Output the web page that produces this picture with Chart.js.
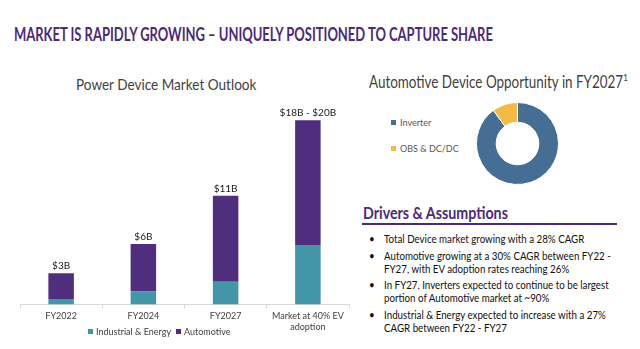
<!DOCTYPE html>
<html>
<head>
<meta charset="utf-8">
<script src="https://cdn.jsdelivr.net/npm/chart.js@4/dist/chart.umd.min.js"></script>
<style>
  html, body { margin: 0; padding: 0; background: #fff; }
  body { width: 640px; height: 349px; position: relative; overflow: hidden; font-family: Lato, "Open Sans", sans-serif; }
  .abs { position: absolute; white-space: nowrap; transform-origin: 0 50%; }
  #mainTitle { left: 14px; top: 23px; font-size: 18px; font-weight: 700; color: #4b2a7c; line-height: 22px; }
  #barTitle { left: 76px; top: 74px; font-size: 15px; color: #3f3f3f; line-height: 20px; }
  #donutTitle { left: 369px; top: 71px; font-size: 17px; color: #3f3f3f; line-height: 22px; }
  #donutTitle sup { font-size: 10px; vertical-align: 7px; line-height: 0; }
  #barWrap { position: absolute; left: 0; top: 100px; width: 352px; height: 249px; }
  #donut { position: absolute; left: 476px; top: 102px; }
  .lg { position: absolute; font-size: 9px; color: #595959; line-height: 12px; white-space: nowrap; }
  .lg span { display: inline-block; width: 5px; height: 5px; margin-right: 4px; vertical-align: 1px; }
  #barLegend { position: absolute; left: 88px; top: 326px; font-size: 9px; color: #404040; line-height: 12px; white-space: nowrap; }
  #barLegend .it { display: inline-block; margin-right: 5px; }
  #barLegend span { display: inline-block; width: 5px; height: 5px; margin-right: 3px; vertical-align: 1px; }
  #drvHead { left: 363px; top: 202px; font-size: 17px; font-weight: 700; color: #4b2a7c; line-height: 22px; }
  #drvLine { position: absolute; left: 362px; top: 223px; width: 255px; height: 2px; background: #4b2a7c; }
  #bullets { position: absolute; left: 369px; top: 232px; margin: 0; padding: 0; list-style: none; font-size: 11px; line-height: 13px; color: #111; transform-origin: 0 0; transform: scaleX(0.885); }
  #bullets li { position: relative; padding-left: 17px; margin-bottom: 3.5px; white-space: nowrap; }
  #bullets li:before { content: "\2022"; position: absolute; left: 0; top: 0; }
</style>
</head>
<body>
<div id="mainTitle" class="abs">MARKET IS RAPIDLY GROWING – UNIQUELY POSITIONED TO CAPTURE SHARE</div>
<div id="barTitle" class="abs">Power Device Market Outlook</div>
<div id="donutTitle" class="abs">Automotive Device Opportunity in FY2027<sup>1</sup></div>
<div id="barWrap"><canvas id="bars"></canvas></div>
<div id="barLegend"></div>
<canvas id="donut" width="83" height="83"></canvas>
<div id="donutLegend"></div>
<div id="drvHead" class="abs">Drivers &amp; Assumptions</div>
<div id="drvLine"></div>
<ul id="bullets">
  <li>Total Device market growing with a 28% CAGR</li>
  <li>Automotive growing at a 30% CAGR between FY22 -<br>FY27, with EV adoption rates reaching 26%</li>
  <li>In FY27, Inverters expected to continue to be largest<br>portion of Automotive market at ~90%</li>
  <li>Industrial &amp; Energy expected to increase with a 27%<br>CAGR between FY22 - FY27</li>
</ul>
<script>
// bar chart data ($B)
var categories = ['FY2022', 'FY2024', 'FY2027', ['Market at 40% EV', 'adoption']];
var seriesNames = ['Industrial & Energy', 'Automotive'];
var industrial = [0.55, 1.3, 2.25, 5.9];
var automotive = [2.55, 4.7, 8.55, 12.4];
var totalLabels = ['$3B', '$6B', '$11B', '$18B - $20B'];

// doughnut data (%)
var donutLabels = ['Inverter', 'OBS & DC/DC'];
var donutValues = [90, 10];

var purple = '#4f2e7e';
var teal = '#4396a8';
var donutColors = ['#466d94', '#f3bb45'];

// stretch headings to the reference widths
function fitWidth(id, w) {
  var el = document.getElementById(id);
  el.style.transform = 'scaleX(' + (w / el.scrollWidth) + ')';
}
fitWidth('mainTitle', 479);
fitWidth('barTitle', 180);
fitWidth('donutTitle', 259);
fitWidth('drvHead', 145);

var totalsPlugin = {
  id: 'totals',
  afterDatasetsDraw: function (chart) {
    var ctx = chart.ctx;
    var top = chart.getDatasetMeta(chart.data.datasets.length - 1);
    ctx.save();
    ctx.font = '10px Lato, sans-serif';
    ctx.fillStyle = '#1a1a1a';
    ctx.textAlign = 'center';
    ctx.textBaseline = 'bottom';
    top.data.forEach(function (bar, i) {
      ctx.fillText(totalLabels[i], bar.x, bar.y - 2);
    });
    ctx.restore();
  }
};

var barChart = new Chart(document.getElementById('bars'), {
  type: 'bar',
  data: {
    labels: categories,
    datasets: [
      { label: seriesNames[0], data: industrial, backgroundColor: teal, barPercentage: 0.62, categoryPercentage: 0.5 },
      { label: seriesNames[1], data: automotive, backgroundColor: purple, barPercentage: 0.62, categoryPercentage: 0.5 }
    ]
  },
  options: {
    responsive: true,
    maintainAspectRatio: false,
    animation: false,
    layout: { padding: { left: 20, right: 3, top: 3, bottom: 14 } },
    plugins: {
      legend: { display: false },
      tooltip: { enabled: false }
    },
    scales: {
      x: {
        stacked: true,
        grid: { drawOnChartArea: false, color: '#d9d9d9', tickLength: 4 },
        border: { color: '#d9d9d9' },
        ticks: { color: '#404040', font: { family: 'Lato', size: 9, lineHeight: 1.25 }, padding: 2, maxRotation: 0, autoSkip: false }
      },
      y: { stacked: true, display: false, min: 0, max: 20 }
    }
  },
  plugins: [totalsPlugin]
});

// html legends, built from the same arrays
function addLegend(boxId, names, colors, lefts, tops) {
  names.forEach(function (name, i) {
    var d = document.createElement('div');
    d.className = 'lg';
    d.style.left = lefts[i] + 'px';
    d.style.top = tops[i] + 'px';
    d.innerHTML = '<span style="background:' + colors[i] + '"></span>';
    d.appendChild(document.createTextNode(name));
    document.getElementById(boxId).appendChild(d);
  });
}

barChart.data.datasets.forEach(function (ds) {
  var it = document.createElement('div');
  it.className = 'it';
  it.innerHTML = '<span style="background:' + ds.backgroundColor + '"></span>';
  it.appendChild(document.createTextNode(ds.label));
  document.getElementById('barLegend').appendChild(it);
});

new Chart(document.getElementById('donut'), {
  type: 'doughnut',
  data: {
    labels: donutLabels,
    datasets: [{ data: donutValues, backgroundColor: donutColors, borderColor: '#fff', borderWidth: 1 }]
  },
  options: {
    responsive: false,
    animation: false,
    cutout: '52%',
    plugins: { legend: { display: false }, tooltip: { enabled: false } }
  }
});

addLegend('donutLegend', donutLabels, donutColors, [391, 391], [117, 143]);
</script>
</body>
</html>
